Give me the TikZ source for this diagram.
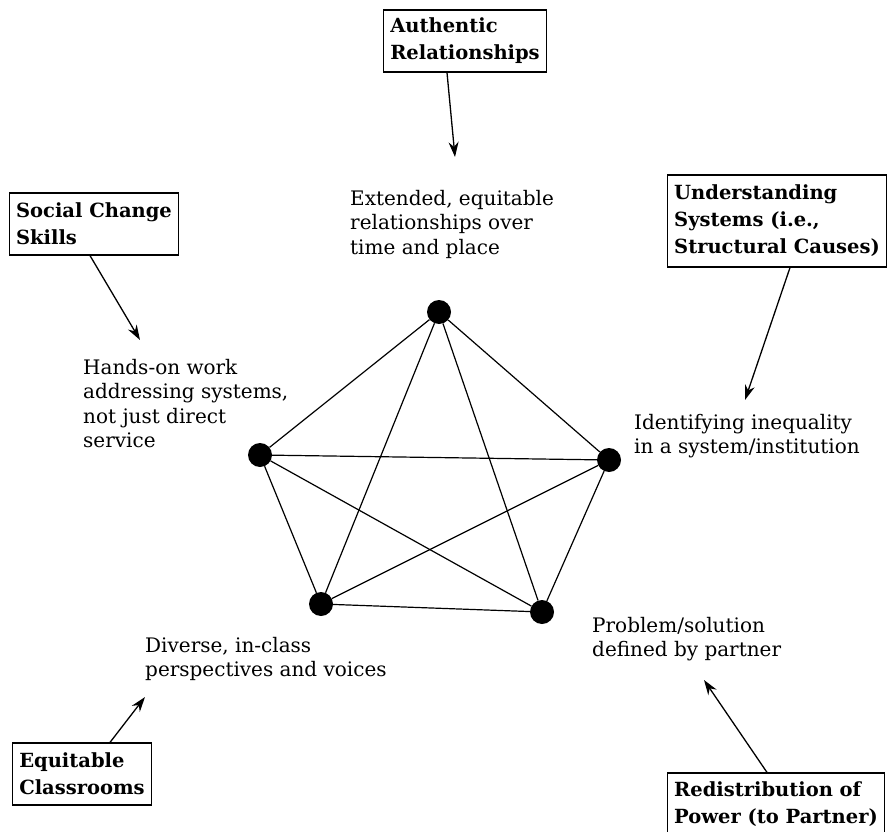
\documentclass[tikz,border=0pt]{standalone}
\usepackage{fontspec}
\setmainfont{DejaVu Serif}
\usetikzlibrary{arrows.meta}
\tikzstyle{dot} = [circle, fill, minimum size=24pt, inner sep=0pt]
\tikzstyle{topic} = [draw, line width=1.2pt, align=left, inner xsep=7pt, inner ysep=0pt, minimum height=62pt, font=\bfseries\fontsize{19.5}{27}\selectfont]
\tikzstyle{note} = [anchor=north west, align=left, inner sep=0pt, font=\fontsize{20}{24.5}\selectfont]
\tikzstyle{pointer} = [line width=1.3pt, -{Stealth[length=15pt,width=10pt]}]
\tikzstyle{edge} = [line width=1.2pt]
\begin{document}
\begin{tikzpicture}[x=1pt,y=-1pt]
	\useasboundingbox (0,0) rectangle (889,832);
	% the five points
	\node[dot] (p1) at (439,312) {};
	\node[dot] (p2) at (609,460) {};
	\node[dot] (p3) at (542,612) {};
	\node[dot] (p4) at (321,604) {};
	\node[dot] (p5) at (260,455) {};
	\foreach \a/\b in {p1/p2,p1/p3,p1/p4,p1/p5,p2/p3,p2/p4,p2/p5,p3/p4,p3/p5,p4/p5}
		\draw[edge] (\a) -- (\b);
	% descriptions
	\node[note] (t1) at (350,190) {Extended, equitable\\relationships over\\time and place};
	\node[note] (t2) at (634,414) {Identifying inequality\\in a system/institution};
	\node[note] (t3) at (592,617) {Problem/solution\\defined by partner};
	\node[note] (t4) at (145,637) {Diverse, in-class\\perspectives and voices};
	\node[note] (t5) at (83,359) {Hands-on work\\addressing systems,\\not just direct\\service};
	% headings
	\node[topic] (auth) at (465,41) {Authentic\\Relationships};
	\node[topic, minimum height=92pt] (under) at (777,221) {Understanding\\Systems (i.e.,\\Structural Causes)};
	\node[topic] (redis) at (776,804) {Redistribution of\\Power (to Partner)};
	\node[topic] (equit) at (82,774) {Equitable\\Classrooms};
	\node[topic] (social) at (94,224) {Social Change\\Skills};
	\coordinate (a1) at (455,157);
	\coordinate (a2) at (745,400);
	\coordinate (a3) at (704,680);
	\coordinate (a4) at (145,697);
	\coordinate (a5) at (140,340);
	\draw[pointer] ([xshift=-18pt]auth.south) -- (a1);
	\draw[pointer] ([xshift=13pt]under.south) -- (a2);
	\draw[pointer] ([xshift=-9pt]redis.north) -- (a3);
	\draw[pointer] ([xshift=28pt]equit.north) -- (a4);
	\draw[pointer] ([xshift=-4pt]social.south) -- (a5);
\end{tikzpicture}
\end{document}
